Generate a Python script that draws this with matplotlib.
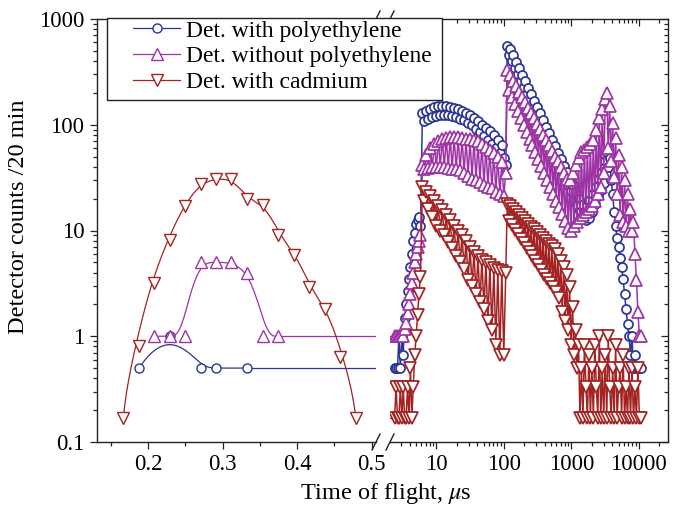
import numpy as np
import matplotlib
matplotlib.use('Agg')
import matplotlib.pyplot as plt
from matplotlib.lines import Line2D
from matplotlib.patches import Rectangle
from matplotlib.ticker import MultipleLocator, LogLocator, NullFormatter

plt.rcParams['font.family'] = ['Liberation Serif', 'DejaVu Serif']
plt.rcParams['mathtext.fontset'] = 'stix'

# ---- linear part of the time axis (0.13 .. 0.5 us) ----
blue_lin_x = [0.188, 0.229, 0.271, 0.291, 0.333]
blue_lin_y = [0.5, 1.0, 0.5, 0.5, 0.5]

purple_lin_x = [0.208, 0.229, 0.250, 0.271, 0.291, 0.312, 0.333, 0.354, 0.375]
purple_lin_y = [1, 1, 1, 5, 5, 5, 4, 1, 1]

red_lin_x = [0.167, 0.188, 0.208, 0.229, 0.250, 0.271, 0.291, 0.312,
             0.333, 0.354, 0.375, 0.396, 0.416, 0.437, 0.458, 0.479]
red_lin_y = [0.17, 0.8, 3.2, 8.1, 17, 27.5, 31, 30.5,
             20, 17.5, 9.1, 5.9, 2.9, 1.8, 0.64, 0.17]

# ---- log part of the time axis (us), three scan ranges ----
tof_a = [2.4, 2.52, 2.65, 2.78, 2.92, 3.07, 3.22, 3.38, 3.55, 3.73,
         3.92, 4.11, 4.32, 4.53, 4.76, 5.0, 5.25, 5.51, 5.79]
tof_b = [6.2, 6.63, 7.1, 7.6, 8.13, 8.7, 9.31, 9.96, 10.66, 11.4,
         12.2, 13.06, 13.97, 14.95, 16.0, 17.1, 18.3, 19.6, 21.0, 22.4,
         24.0, 25.7, 27.5, 29.4, 31.5, 33.7, 36.0, 38.6, 41.3, 44.1,
         47.2, 50.6, 54.1, 57.9, 61.9, 66.3, 70.9, 75.9, 81.2, 86.9,
         93.0, 99.5, 106.5]
tof_c = [112, 117.8, 124, 130.4, 137.1, 144.3, 151.8, 159.7, 168, 176.7,
         185.9, 195.6, 205.7, 216.4, 227.7, 239.5, 251.9, 265, 278.8, 293.3,
         308.5, 324.5, 341.4, 359.2, 377.8, 397.5, 418.1, 439.9, 462.7, 486.8,
         512.1, 538.7, 566.7, 596.2, 627.2, 659.8, 694.1, 730.2, 768.2, 808.1,
         850.2, 894.3, 940.8, 989, 1040, 1094, 1151, 1211, 1274, 1340,
         1410, 1483, 1561, 1642, 1727, 1817, 1911, 2011, 2115, 2225,
         2341, 2462, 2590, 2725, 2867, 3016, 3172, 3337, 3511, 3693,
         3885, 4087, 4300, 4523, 4758, 5006, 5266, 5540, 5828, 6131,
         6450, 6785, 7138, 7509, 7900, 8310, 8743, 9197, 9676, 10170,
         10700]

blue_a = [0.5, 0.5, 0.5, 1.0, 0.5, 1.0, 0.67, 1.5, 2.0, 2.7,
          3.5, 4.5, 6, 8, 9.5, 11.5, 12.5, 13.5, 11]
blue_b = [130, 108, 136, 114, 142, 118, 148, 122, 152, 125,
          152, 125, 150, 124, 148, 121, 144, 118, 140, 114,
          136, 110, 130, 105, 123, 99, 116, 92, 108, 86,
          100, 79, 94, 72, 87, 66, 80, 60, 72, 54,
          64, 48, 42]
blue_c = [550, 460, 525, 400, 455, 347, 395, 300, 343, 261,
          298, 227, 258, 197, 224, 171, 195, 148, 168, 129,
          146, 112, 128, 97, 110, 84, 96, 73, 83, 63,
          72, 55, 63, 48, 54, 41, 47, 36, 41, 31,
          36, 27, 31, 23.5, 27, 20, 23, 17.6, 20, 15.3,
          17.5, 13.3, 15, 12.5, 17, 13, 19.5, 15, 22, 18,
          26, 21, 31, 24, 36, 28, 45, 55, 40, 48,
          30, 22, 15, 11, 8.5, 7, 5.5, 4.5, 3.5, 2.5,
          1.8, 1.3, 1.0, 0.67, 1.0, 0.5, 0.67, 0.5, 0.5, 0.5,
          0.5]

purple_a = [1, 1, 1, 1, 1, 1, 1, 1.17, 1.33, 1.67,
            2.0, 2.5, 3.2, 4, 5, 6, 7, 8, 9]
purple_b = [42, 38, 52, 39, 60, 40, 66, 40, 70, 40,
            73, 40, 75, 39, 76, 38, 77, 38, 76, 37,
            75, 35, 74, 33, 73, 31, 72, 30, 70, 29,
            66, 27, 62, 26, 58, 25, 54, 23, 50, 22,
            44, 21, 35]
purple_c = [331, 212, 294, 183, 262, 157, 232, 135, 206, 117,
            184, 100, 163, 86, 145, 74, 129, 64, 115, 55,
            102, 47, 91, 41, 80, 35, 72, 30, 64, 26,
            57, 22, 50, 19, 45, 16.6, 40, 14.3, 35, 12.3,
            31, 10.6, 30, 10, 35, 11, 42, 12, 48, 13,
            55, 14, 58, 15, 62, 16, 66, 17, 72, 19,
            90, 22, 115, 26, 140, 35, 175, 200, 60, 150,
            45, 105, 32, 75, 22, 52, 14, 40, 12, 30,
            11, 22, 10, 16, 10, 12, 6, 3.4, 1.7, 1.0,
            1.0]

red_a = [0.17, 0.33, 0.17, 0.17, 0.33, 0.17, 0.33, 0.17, 0.17, 0.33,
         0.17, 0.5, 0.17, 0.33, 0.67, 1.0, 1.6, 2.5, 3.6]
red_b = [26, 19, 23, 16, 21, 13.5, 19, 11, 17, 10,
         15.5, 9, 14, 7.8, 12.5, 6.8, 11, 5.8, 10, 5,
         9, 4.3, 8, 3.4, 7, 3, 6.3, 2.5, 5.7, 2.1,
         5.3, 1.8, 5, 1.4, 4.7, 1.15, 4.4, 0.83, 4.2, 0.67,
         4.1, 0.67, 4]
red_c = [18, 12.4, 16.9, 11.2, 15.9, 10.2, 14.9, 9.2, 14, 8.4,
         13.2, 7.6, 12.4, 6.9, 11.6, 6.3, 10.9, 5.7, 10.3, 5.1,
         9.7, 4.7, 9.1, 4.2, 8.5, 3.8, 8.0, 3.5, 7.5, 3.2,
         7.1, 2.9, 6.7, 2.6, 6.0, 2.3, 5.2, 1.7, 4.5, 1.4,
         3.8, 1.15, 2.9, 0.83, 1.9, 0.67, 1.15, 0.5, 0.83, 0.17,
         0.5, 0.17, 0.83, 0.33, 0.17, 0.67, 0.17, 0.5, 0.17, 0.83,
         0.33, 0.17, 1.0, 0.17, 0.5, 0.17, 0.67, 0.17, 1.0, 0.33,
         0.17, 0.5, 0.17, 0.83, 0.17, 0.33, 0.5, 0.17, 0.67, 0.17,
         0.33, 0.17, 0.5, 0.17, 0.5, 0.17, 0.33, 0.17, 0.5, 0.17,
         0.17]

labels = ['Det. with polyethylene', 'Det. without polyethylene', 'Det. with cadmium']
c_blue, c_purple, c_red = '#2a3596', '#9e33a6', '#a32222'


def bspline(xs, ys, n=25):
    # clamped uniform cubic B-spline, like the Origin "B-Spline" connector
    px = np.r_[xs[0], xs[0], xs, xs[-1], xs[-1]]
    py = np.r_[ys[0], ys[0], ys, ys[-1], ys[-1]]
    t = np.linspace(0, 1, n)
    b = [(1 - t) ** 3 / 6, (3 * t**3 - 6 * t**2 + 4) / 6,
         (-3 * t**3 + 3 * t**2 + 3 * t + 1) / 6, t**3 / 6]
    ox, oy = [], []
    for j in range(len(px) - 3):
        ox.append(sum(b[k] * px[j + k] for k in range(4)))
        oy.append(sum(b[k] * py[j + k] for k in range(4)))
    return np.concatenate(ox), np.concatenate(oy)


W, H = 675, 513
fig = plt.figure(figsize=(W / 100, H / 100), dpi=100)
ax1 = fig.add_axes([97 / W, 1 - 442 / H, (376 - 97) / W, (442 - 19) / H])
ax2 = fig.add_axes([390 / W, 1 - 442 / H, (668 - 390) / W, (442 - 19) / H])

lw = 0.9
mew = 1.0
series_lin = [(blue_lin_x, blue_lin_y, c_blue, 'o', 6.5),
              (purple_lin_x, purple_lin_y, c_purple, '^', 8),
              (red_lin_x, red_lin_y, c_red, 'v', 8)]
for xs, ys, c, m, ms in series_lin:
    sx, sy = bspline(xs, ys)
    ax1.plot(sx, sy, color=c, lw=lw)
    ax1.plot(xs, ys, ls='none', marker=m, ms=ms, mfc='white', mec=c, mew=mew)
# flat tails running on to the break
ax1.plot([blue_lin_x[-1], 0.6], [blue_lin_y[-1]] * 2, color=c_blue, lw=lw, zorder=1)
ax1.plot([purple_lin_x[-1], 0.6], [purple_lin_y[-1]] * 2, color=c_purple, lw=lw, zorder=1)

series_log = [(blue_a + blue_b + blue_c, c_blue, 'o', 6.5),
              (purple_a + purple_b + purple_c, c_purple, '^', 8),
              (red_a + red_b + red_c, c_red, 'v', 8)]
tof = tof_a + tof_b + tof_c
for ys, c, m, ms in series_log:
    ax2.plot([1.5, tof[0]], [ys[0], ys[0]], color=c, lw=lw)
    ax2.plot(tof, ys, color=c, lw=1.1, marker=m, ms=ms, mfc='white', mec=c, mew=1.25)

for ax in (ax1, ax2):
    ax.set_yscale('log')
    ax.set_ylim(0.1, 1000)
    for s in ax.spines.values():
        s.set_linewidth(1.0)
        s.set_color('#222222')
    ax.tick_params(which='both', labelsize=16.5, width=0.9, color='#222222', pad=4)
    ax.tick_params(which='major', length=5)
    ax.tick_params(which='minor', length=2.8)
    ax.tick_params(axis='x', which='both', bottom=True, top=True, direction='out')

ax1.set_xlim(0.1315, 0.506)
ax1.set_xticks([0.2, 0.3, 0.4, 0.5], labels=['0.2', '0.3', '0.4', '0.5'])
ax1.xaxis.set_minor_locator(MultipleLocator(0.05))
ax1.spines['right'].set_visible(False)
ax1.set_yticks([0.1, 1, 10, 100, 1000], labels=['0.1', '1', '10', '100', '1000'])
ax1.yaxis.set_minor_locator(LogLocator(base=10, subs=np.arange(2, 10)))
ax1.yaxis.set_minor_formatter(NullFormatter())
ax1.tick_params(axis='y', which='both', direction='out', left=True, right=False)

ax2.set_xscale('log')
ax2.set_xlim(2.05, 27000)
ax2.set_xticks([10, 100, 1000, 10000], labels=['10', '100', '1000', '10000'])
ax2.xaxis.set_minor_locator(LogLocator(base=10, subs=np.arange(2, 10)))
ax2.xaxis.set_minor_formatter(NullFormatter())
ax2.spines['left'].set_visible(False)
ax2.yaxis.set_minor_locator(LogLocator(base=10, subs=np.arange(2, 10)))
ax2.yaxis.set_minor_formatter(NullFormatter())
ax2.tick_params(axis='y', which='both', direction='in', left=False, right=True,
                labelleft=False, labelright=False)

# top ticks point inwards, bottom ticks outwards
for ax in (ax1, ax2):
    for t in ax.xaxis.get_major_ticks() + ax.xaxis.get_minor_ticks():
        t.tick2line.set_marker(3)

# break marks
kw = dict(color='#222222', lw=1.0, clip_on=False)
dx1, dy = 4 / 279, 8 / 423
dx2 = 4 / 278
for yy in (0, 1):
    ax1.plot([1 - dx1, 1 + dx1], [yy - dy, yy + dy], transform=ax1.transAxes, **kw)
    ax2.plot([-dx2, dx2], [yy - dy, yy + dy], transform=ax2.transAxes, **kw)

# legend box (drawn over both panels), then the entries inside it
fig.add_artist(Rectangle((107 / W, 1 - 100 / H), 335 / W, 82 / H, transform=fig.transFigure,
                         facecolor='white', edgecolor='#222222', lw=1.0, zorder=4))
handles = [Line2D([], [], color=c, lw=lw, marker=m, ms=ms, mfc='white', mec=c, mew=mew)
           for (_, c, m, ms) in series_log]
leg = fig.legend(handles, labels, loc='upper left', bbox_to_anchor=(133 / W, 1 - 20 / H),
                 fontsize=17, frameon=False, borderaxespad=0, borderpad=0,
                 labelspacing=0.18, handlelength=2.0, handletextpad=0.25)
leg.set_zorder(5)

fig.text(19 / W, 1 - 217 / H, 'Detector counts /20 min', rotation=90,
         ha='center', va='center', fontsize=17.5)
fig.text(386 / W, 1 - 494 / H, r'Time of flight, $\mu$s', ha='center', va='center',
         fontsize=17.5)

fig.savefig('out.png', dpi=100)
